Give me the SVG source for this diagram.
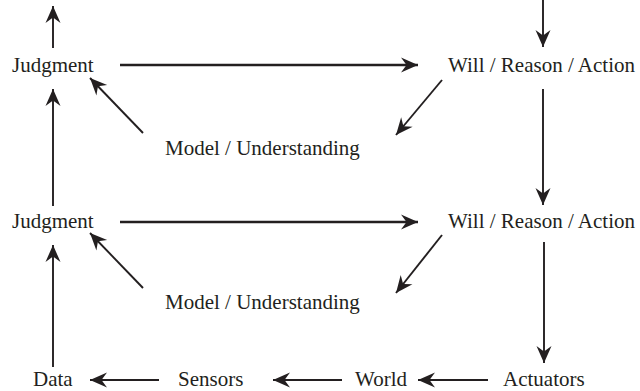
<svg xmlns="http://www.w3.org/2000/svg" width="640" height="391" viewBox="0 0 640 391">
<style>
.t text{font-family:'Liberation Serif','Times New Roman',Times,serif;font-size:21px;fill:#231f20}
.c line{stroke:#231f20;stroke-width:1.9;marker-end:url(#ah)}
.c line.h{stroke-width:2.3}
</style>
<defs>
<marker id="ah" markerUnits="userSpaceOnUse" markerWidth="20" markerHeight="18" viewBox="-18 -9 20 18" refX="0" refY="0" orient="auto">
<path d="M0,0 L-17,-7.5 L-11.5,0 L-17,7.5 Z" fill="#231f20"/>
</marker>
</defs>
<rect width="640" height="391" fill="#fff"/>
<g class="t" font-family="Liberation Serif, serif">
<g id="judgment1"><text x="12" y="72">Judgment</text></g>
<g id="will1"><text x="448" y="72">Will / Reason / Action</text></g>
<g id="model1"><text x="165" y="155">Model / Understanding</text></g>
<g id="judgment2"><text x="12" y="228">Judgment</text></g>
<g id="will2"><text x="448" y="228">Will / Reason / Action</text></g>
<g id="model2"><text x="165" y="309">Model / Understanding</text></g>
<g id="data"><text x="33" y="386">Data</text></g>
<g id="sensors"><text x="178" y="386">Sensors</text></g>
<g id="world"><text x="355" y="386">World</text></g>
<g id="actuators"><text x="503" y="386">Actuators</text></g>
</g>
<g class="c" id="connectors">
<line x1="53" y1="48" x2="53" y2="6"/>
<line x1="543" y1="0" x2="543" y2="47"/>
<line class="h" x1="120" y1="65" x2="418" y2="65"/>
<line x1="442" y1="80" x2="396" y2="135"/>
<line x1="143" y1="133" x2="90" y2="78"/>
<line x1="543" y1="89" x2="543" y2="205"/>
<line x1="53" y1="206" x2="53" y2="89"/>
<line class="h" x1="120" y1="222" x2="418" y2="222"/>
<line x1="442" y1="235" x2="396" y2="293"/>
<line x1="143" y1="288" x2="90" y2="233"/>
<line x1="544" y1="242" x2="544" y2="363"/>
<line x1="53" y1="367" x2="53" y2="245"/>
<line x1="159" y1="380" x2="90" y2="380"/>
<line x1="342" y1="380" x2="273" y2="380"/>
<line x1="488" y1="380" x2="418" y2="380"/>
</g>
</svg>
